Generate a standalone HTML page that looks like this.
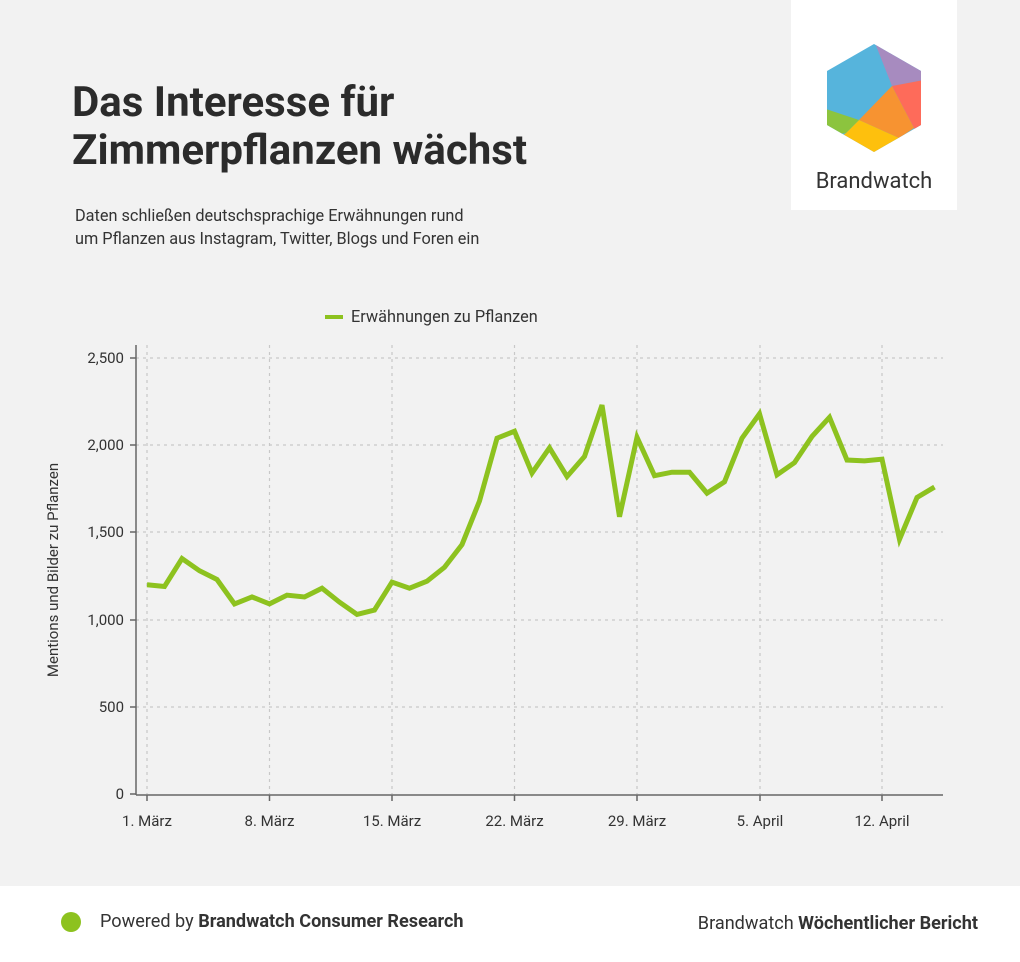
<!DOCTYPE html>
<html><head><style>
body{margin:0;width:1020px;height:962px;background:#f2f2f2;font-family:"Roboto","Liberation Sans",sans-serif;position:relative;overflow:hidden;color:#333}
.t{position:absolute}
</style></head><body>
<div class="t" style="left:72px;top:79px;font-size:42px;font-weight:bold;line-height:48px;color:#2b2b2b">Das Interesse für<br>Zimmerpflanzen wächst</div>
<div class="t" style="left:75px;top:204px;font-size:16.3px;line-height:23px;color:#333">Daten schließen deutschsprachige Erwähnungen rund<br>um Pflanzen aus Instagram, Twitter, Blogs und Foren ein</div>
<div class="t" style="left:791px;top:0;width:166px;height:210px;background:#fff"></div>
<svg class="t" style="left:0;top:0" width="1020" height="962">
<g transform="translate(874,98)">
<clipPath id="hx"><path d="M0,-54 L47,-27 L47,27 L0,54 L-47,27 L-47,-27 Z"/></clipPath>
<g clip-path="url(#hx)">
<rect x="-60" y="-60" width="120" height="120" fill="#56b4dc"/>
<polygon points="-1,-60 60,-60 60,-20 18,-12" fill="#a78bbf"/>
<polygon points="18,-12 60,-20 60,60 40,30" fill="#fe6b5a"/>
<polygon points="18,-12 40,30 25,40 -15,22" fill="#f79331"/>
<polygon points="-15,22 25,40 10,60 -60,60 -28,35" fill="#fec00d"/>
<polygon points="-60,7 -15,22 -28,35 -60,40" fill="#8cc43e"/>
</g></g>
<text x="874" y="188" font-size="22" text-anchor="middle" fill="#333">Brandwatch</text>
<line x1="325" y1="317" x2="343" y2="317" stroke="#8dc21f" stroke-width="4"/>
<text x="351" y="322" font-size="16.3" fill="#333">Erwähnungen zu Pflanzen</text>
<g stroke="#c8c8c8" stroke-dasharray="3,4" stroke-width="1.2">
<line x1="136" x2="943" y1="358" y2="358"/><line x1="136" x2="943" y1="445" y2="445"/><line x1="136" x2="943" y1="532" y2="532"/><line x1="136" x2="943" y1="620" y2="620"/><line x1="136" x2="943" y1="707" y2="707"/>
<line x1="147" x2="147" y1="345" y2="794"/><line x1="269.5" x2="269.5" y1="345" y2="794"/><line x1="392" x2="392" y1="345" y2="794"/><line x1="514.5" x2="514.5" y1="345" y2="794"/><line x1="637" x2="637" y1="345" y2="794"/><line x1="760" x2="760" y1="345" y2="794"/><line x1="882" x2="882" y1="345" y2="794"/>
</g>
<g stroke="#666" stroke-width="1.5">
<line x1="136" y1="345" x2="136" y2="795"/><line x1="136" y1="795" x2="943" y2="795"/>
<line x1="130" x2="136" y1="358" y2="358"/><line x1="130" x2="136" y1="445" y2="445"/><line x1="130" x2="136" y1="532" y2="532"/><line x1="130" x2="136" y1="620" y2="620"/><line x1="130" x2="136" y1="707" y2="707"/><line x1="130" x2="136" y1="794" y2="794"/>
<line x1="147" x2="147" y1="795" y2="801"/><line x1="269.5" x2="269.5" y1="795" y2="801"/><line x1="392" x2="392" y1="795" y2="801"/><line x1="514.5" x2="514.5" y1="795" y2="801"/><line x1="637" x2="637" y1="795" y2="801"/><line x1="760" x2="760" y1="795" y2="801"/><line x1="882" x2="882" y1="795" y2="801"/>
</g>
<g font-size="15" fill="#333" text-anchor="end">
<text x="124" y="363">2,500</text><text x="124" y="450">2,000</text><text x="124" y="537">1,500</text><text x="124" y="625">1,000</text><text x="124" y="712">500</text><text x="124" y="799">0</text>
</g>
<g font-size="15" fill="#333" text-anchor="middle">
<text x="147" y="826">1. März</text><text x="269.5" y="826">8. März</text><text x="392" y="826">15. März</text><text x="514.5" y="826">22. März</text><text x="637" y="826">29. März</text><text x="760" y="826">5. April</text><text x="882" y="826">12. April</text>
</g>
<text transform="translate(58,570) rotate(-90)" font-size="15" fill="#333" text-anchor="middle">Mentions und Bilder zu Pflanzen</text>
<g transform="translate(147,794) scale(17.5,-0.1744)">
<polyline vector-effect="non-scaling-stroke" fill="none" stroke="#8dc21f" stroke-width="5" points="0,1200 1,1190 2,1350 3,1280 4,1230 5,1090 6,1130 7,1090 8,1140 9,1130 10,1180 11,1100 12,1030 13,1055 14,1215 15,1180 16,1220 17,1300 18,1430 19,1680 20,2040 21,2080 22,1840 23,1985 24,1820 25,1935 26,2230 27,1590 28,2045 29,1825 30,1845 31,1845 32,1725 33,1790 34,2040 35,2180 36,1830 37,1900 38,2050 39,2160 40,1915 41,1910 42,1920 43,1460 44,1700 45,1760"/>
</g>
</svg>
<div class="t" style="left:0;top:886px;width:1020px;height:76px;background:#fff"></div>
<div class="t" style="left:61px;top:912px;width:20px;height:20px;border-radius:50%;background:#8dc21f"></div>
<div class="t" style="left:100px;top:911px;font-size:18.1px;color:#333">Powered by <b>Brandwatch Consumer Research</b></div>
<div class="t" style="right:42px;top:913px;font-size:18.1px;color:#333">Brandwatch <b>Wöchentlicher Bericht</b></div>
</body></html>
